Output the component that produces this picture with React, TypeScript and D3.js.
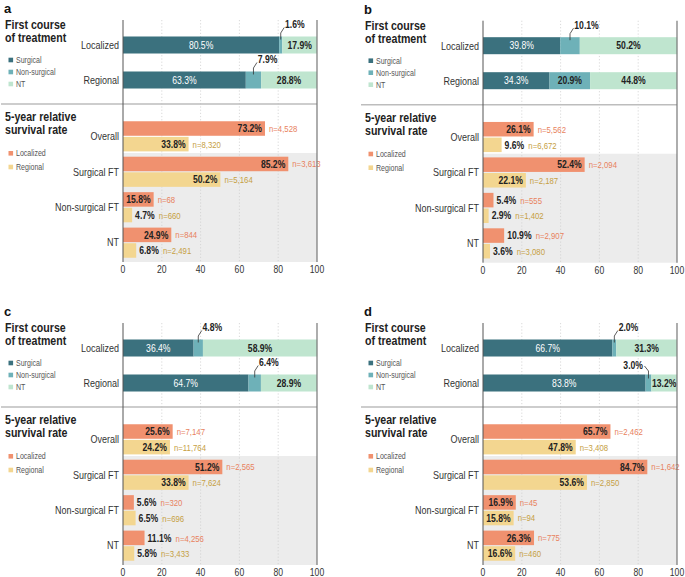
import React from "react";
import * as d3 from "d3";

// ---------- shared categories ----------
const treatmentCategories = ["Localized", "Regional"];
const treatmentKeys = ["Surgical", "Non-surgical", "NT"];
const survivalGroups = ["Overall", "Surgical FT", "Non-surgical FT", "NT"];
const stageKeys = ["Localized", "Regional"];
const xTicks = [0, 20, 40, 60, 80, 100];

// ---------- panel a ----------
const aSurgical = [80.5, 63.3];
const aNonSurgical = [1.6, 7.9];
const aNT = [17.9, 28.8];
const aSurvLocalized = [73.2, 85.2, 15.8, 24.9];
const aSurvRegional = [33.8, 50.2, 4.7, 6.8];
const aNLocalized = ["4,528", "3,613", "68", "844"];
const aNRegional = ["8,320", "5,164", "660", "2,491"];

// ---------- panel b ----------
const bSurgical = [39.8, 34.3];
const bNonSurgical = [10.1, 20.9];
const bNT = [50.2, 44.8];
const bSurvLocalized = [26.1, 52.4, 5.4, 10.9];
const bSurvRegional = [9.6, 22.1, 2.9, 3.6];
const bNLocalized = ["5,562", "2,094", "555", "2,907"];
const bNRegional = ["6,672", "2,187", "1,402", "3,080"];

// ---------- panel c ----------
const cSurgical = [36.4, 64.7];
const cNonSurgical = [4.8, 6.4];
const cNT = [58.9, 28.9];
const cSurvLocalized = [25.6, 51.2, 5.6, 11.1];
const cSurvRegional = [24.2, 33.8, 6.5, 5.8];
const cNLocalized = ["7,147", "2,565", "320", "4,256"];
const cNRegional = ["11,764", "7,624", "696", "3,433"];

// ---------- panel d ----------
const dSurgical = [66.7, 83.8];
const dNonSurgical = [2.0, 3.0];
const dNT = [31.3, 13.2];
const dSurvLocalized = [65.7, 84.7, 16.9, 26.3];
const dSurvRegional = [47.8, 53.6, 15.8, 16.6];
const dNLocalized = ["2,462", "1,642", "45", "775"];
const dNRegional = ["3,408", "2,850", "94", "460"];

// ---------- styles ----------
const FONT = "'Liberation Sans', Arial, Helvetica, sans-serif";
const SX = 0.82; // condensed look
const treatColors: Record<string, string> = {
  Surgical: "#3b717e",
  "Non-surgical": "#6eb1b8",
  NT: "#bfe5cf",
};
const stageColors: Record<string, string> = { Localized: "#f0916f", Regional: "#f3d690" };
const nColors: Record<string, string> = { Localized: "#e8825e", Regional: "#c6a043" };
const DARK = "#222";

type TProps = {
  x: number;
  y: number;
  size: number;
  anchor?: "start" | "middle" | "end";
  bold?: boolean;
  fill?: string;
  sx?: number;
  children: React.ReactNode;
};

function T({ x, y, size, anchor = "start", bold = false, fill = DARK, sx = SX, children }: TProps) {
  return (
    <text
      transform={`translate(${x},${y}) scale(${sx},1)`}
      textAnchor={anchor}
      fontFamily={FONT}
      fontSize={size}
      fontWeight={bold ? "bold" : "normal"}
      fill={fill}
    >
      {children}
    </text>
  );
}

type PanelProps = {
  letter: string;
  ox: number;
  oy: number;
  surgical: number[];
  nonSurgical: number[];
  nt: number[];
  survLoc: number[];
  survReg: number[];
  nLoc: string[];
  nReg: string[];
};

function Panel(p: PanelProps) {
  const x = d3.scaleLinear().domain([0, 100]).range([123, 317]);
  const yTop = d3
    .scaleBand<string>()
    .domain(treatmentCategories)
    .range([20.5, 104.5])
    .paddingInner(0.514)
    .paddingOuter(0.457);
  const yGroup = d3
    .scaleBand<string>()
    .domain(survivalGroups)
    .range([117, 262])
    .paddingInner(0.15)
    .paddingOuter(0.12);
  const yStage = d3
    .scaleBand<string>()
    .domain(stageKeys)
    .range([0, yGroup.bandwidth()])
    .paddingInner(0.07);

  const rows = treatmentCategories.map((c, i) => ({
    cat: c,
    Surgical: p.surgical[i],
    "Non-surgical": p.nonSurgical[i],
    NT: p.nt[i],
  }));
  const stacked = d3.stack<any>().keys(treatmentKeys)(rows);

  const surv: Record<string, number[]> = { Localized: p.survLoc, Regional: p.survReg };
  const nums: Record<string, string[]> = { Localized: p.nLoc, Regional: p.nReg };

  const axisTop = 20;
  const axisBottom = 262;
  const sepY = 104;
  const bgTop = (yGroup("Surgical FT") as number) - (yGroup.step() * 0.15) / 2 - 1;

  return (
    <g transform={`translate(${p.ox},${p.oy})`}>
      {/* letter */}
      <text x={4} y={13} fontFamily={FONT} fontWeight="bold" fontSize={13} fill="#111">
        {p.letter}
      </text>
      {/* top title */}
      <T x={5} y={29} size={12.2} bold sx={0.87}>
        First course
      </T>
      <T x={5} y={42.3} size={12.2} bold sx={0.87}>
        of treatment
      </T>
      {treatmentKeys.map((k, i) => (
        <g key={k}>
          <rect x={8.5} y={60 + i * 12 - 2.3} width={4.6} height={4.6} fill={treatColors[k]} />
          <T x={16} y={60 + i * 12 + 3.1} size={8.6} fill="#555">
            {k}
          </T>
        </g>
      ))}
      {/* bottom title */}
      <T x={5} y={121} size={12.2} bold sx={0.87}>
        5-year relative
      </T>
      <T x={5} y={134.3} size={12.2} bold sx={0.87}>
        survival rate
      </T>
      {stageKeys.map((k, i) => (
        <g key={k}>
          <rect x={8.5} y={153.3 + i * 13.7 - 2.3} width={4.6} height={4.6} fill={stageColors[k]} />
          <T x={16} y={153.3 + i * 13.7 + 3.1} size={8.6} fill="#555">
            {k}
          </T>
        </g>
      ))}

      {/* grey background for treated groups */}
      <rect x={x(0)} y={bgTop} width={x(100) - x(0)} height={axisBottom - bgTop} fill="#ececec" />

      {/* gridlines */}
      {xTicks
        .filter((t) => t > 0 && t < 100)
        .map((t) => (
          <line
            key={t}
            x1={x(t)}
            x2={x(t)}
            y1={axisTop}
            y2={axisBottom}
            stroke="#cfcfcf"
            strokeWidth={0.8}
            strokeDasharray="1.2,2"
          />
        ))}

      {/* separator */}
      <line x1={1} x2={x(100)} y1={sepY} y2={sepY} stroke="#bdbdbd" strokeWidth={1.6} />

      {/* stacked treatment bars */}
      {stacked.map((layer) =>
        layer.map((seg, i) => {
          const cat = treatmentCategories[i];
          const y0 = yTop(cat) as number;
          return (
            <rect
              key={layer.key + cat}
              x={x(seg[0])}
              y={y0}
              width={x(seg[1]) - x(seg[0])}
              height={yTop.bandwidth()}
              fill={treatColors[layer.key]}
            />
          );
        })
      )}
      {/* treatment labels */}
      {stacked.map((layer) =>
        layer.map((seg, i) => {
          const cat = treatmentCategories[i];
          const y0 = yTop(cat) as number;
          const v = seg[1] - seg[0];
          const cx = (x(seg[0]) + x(seg[1])) / 2;
          const cy = y0 + yTop.bandwidth() / 2 + 3.7;
          const label = `${v.toFixed(1)}%`;
          if (layer.key === "Surgical") {
            return (
              <T key={"l" + layer.key + cat} x={cx} y={cy} anchor="middle" size={10.5} fill="#fff">
                {label}
              </T>
            );
          }
          if (layer.key === "NT" || v >= 15) {
            return (
              <T key={"l" + layer.key + cat} x={cx} y={cy} anchor="middle" size={10.5} bold>
                {label}
              </T>
            );
          }
          // callout for thin non-surgical segment
          const left = (seg[0] + seg[1]) / 2 > 84;
          if (left) {
            return (
              <g key={"l" + layer.key + cat}>
                <path
                  d={`M${cx},${y0 + 4} V${y0 - 3.5} L${cx - 4},${y0 - 8.5}`}
                  fill="none"
                  stroke="#333"
                  strokeWidth={0.8}
                />
                <T x={cx - 5.5} y={y0 - 5.5} anchor="end" size={10.5} bold>
                  {label}
                </T>
              </g>
            );
          }
          return (
            <g key={"l" + layer.key + cat}>
              <path
                d={`M${cx},${y0 + 3} V${y0 - 3.5} L${cx + 3.5},${y0 - 9}`}
                fill="none"
                stroke="#333"
                strokeWidth={0.8}
              />
              <T x={cx + 4.3} y={y0 - 8} size={10.5} bold>
                {label}
              </T>
            </g>
          );
        })
      )}

      {/* category labels top */}
      {treatmentCategories.map((c) => (
        <T
          key={"c" + c}
          x={119}
          y={(yTop(c) as number) + yTop.bandwidth() / 2 + 3.8}
          anchor="end"
          size={11}
          fill="#333"
        >
          {c}
        </T>
      ))}

      {/* survival bars */}
      {survivalGroups.map((g, gi) =>
        stageKeys.map((s) => {
          const v = surv[s][gi];
          const y0 = (yGroup(g) as number) + (yStage(s) as number);
          const h = yStage.bandwidth();
          const ty = y0 + h / 2 + 3.7;
          const inside = v >= 14;
          return (
            <g key={g + s}>
              <rect x={x(0)} y={y0} width={x(v) - x(0)} height={h} fill={stageColors[s]} />
              {inside ? (
                <>
                  <T x={x(v) - 3} y={ty} anchor="end" size={10.5} bold>
                    {`${v.toFixed(1)}%`}
                  </T>
                  <T x={x(v) + 4} y={ty - 0.3} size={9.5} fill={nColors[s]}>
                    {`n=${nums[s][gi]}`}
                  </T>
                </>
              ) : (
                <T x={x(v) + 3} y={ty} size={10.5}>
                  <tspan fontWeight="bold">{`${v.toFixed(1)}%`}</tspan>
                  <tspan dx={5} fontSize={9.5} fill={nColors[s]}>
                    {`n=${nums[s][gi]}`}
                  </tspan>
                </T>
              )}
            </g>
          );
        })
      )}

      {/* group labels */}
      {survivalGroups.map((g) => (
        <T
          key={"g" + g}
          x={119}
          y={(yGroup(g) as number) + yGroup.bandwidth() / 2 + 3.8}
          anchor="end"
          size={11}
          fill="#333"
        >
          {g}
        </T>
      ))}

      {/* axis lines */}
      <line x1={x(0)} x2={x(0)} y1={axisTop} y2={axisBottom} stroke="#555" strokeWidth={1} />
      <line x1={x(100)} x2={x(100)} y1={axisTop} y2={axisBottom} stroke="#777" strokeWidth={1.2} />

      {/* ticks */}
      {xTicks.map((t) => (
        <T key={"t" + t} x={x(t)} y={273} anchor="middle" size={10.5} fill="#333">
          {t}
        </T>
      ))}
    </g>
  );
}

export default function App() {
  return (
    <svg
      width={685}
      height={577}
      style={{ position: "absolute", left: 0, top: 0, background: "#fff" }}
    >
      <rect width={685} height={577} fill="#fff" />
      <Panel
        letter="a"
        ox={0}
        oy={0}
        surgical={aSurgical}
        nonSurgical={aNonSurgical}
        nt={aNT}
        survLoc={aSurvLocalized}
        survReg={aSurvRegional}
        nLoc={aNLocalized}
        nReg={aNRegional}
      />
      <Panel
        letter="b"
        ox={360}
        oy={0.7}
        surgical={bSurgical}
        nonSurgical={bNonSurgical}
        nt={bNT}
        survLoc={bSurvLocalized}
        survReg={bSurvRegional}
        nLoc={bNLocalized}
        nReg={bNRegional}
      />
      <Panel
        letter="c"
        ox={0}
        oy={303}
        surgical={cSurgical}
        nonSurgical={cNonSurgical}
        nt={cNT}
        survLoc={cSurvLocalized}
        survReg={cSurvRegional}
        nLoc={cNLocalized}
        nReg={cNRegional}
      />
      <Panel
        letter="d"
        ox={360}
        oy={303}
        surgical={dSurgical}
        nonSurgical={dNonSurgical}
        nt={dNT}
        survLoc={dSurvLocalized}
        survReg={dSurvRegional}
        nLoc={dNLocalized}
        nReg={dNRegional}
      />
    </svg>
  );
}
